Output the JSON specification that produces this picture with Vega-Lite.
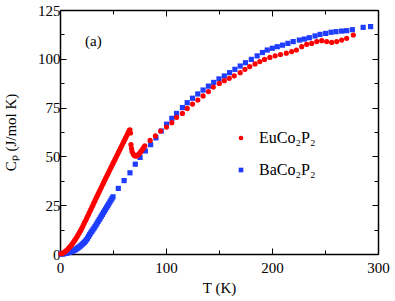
{
  "$schema": "https://vega.github.io/schema/vega-lite/v6.json",
  "width": 318,
  "height": 244,
  "autosize": "none",
  "padding": {"left": 60, "top": 10, "right": 17, "bottom": 47},
  "background": "white",
  "config": {"view": {"stroke": null}, "font": "Liberation Serif"},
  "datasets": {
    "pts": [
      {"s":"B","T":1,"C":0},{"s":"B","T":2,"C":0.05},{"s":"B","T":3,"C":0.1},{"s":"B","T":4,"C":0.2},{"s":"B","T":5,"C":0.3},{"s":"B","T":6,"C":0.45},{"s":"B","T":7,"C":0.6},{"s":"B","T":8,"C":0.8},{"s":"B","T":9,"C":1.0},{"s":"B","T":10,"C":1.2},
      {"s":"B","T":11,"C":1.4},{"s":"B","T":12,"C":1.6},{"s":"B","T":13,"C":1.8},{"s":"B","T":14,"C":2.1},{"s":"B","T":15,"C":2.4},{"s":"B","T":16,"C":2.8},{"s":"B","T":17,"C":3.2},{"s":"B","T":18,"C":3.6},{"s":"B","T":19,"C":4.0},{"s":"B","T":20,"C":4.5},
      {"s":"B","T":21,"C":5.0},{"s":"B","T":22,"C":5.5},{"s":"B","T":23,"C":6.0},{"s":"B","T":24,"C":6.6},{"s":"B","T":25,"C":7.3},{"s":"B","T":26,"C":8.1},{"s":"B","T":27,"C":9.0},{"s":"B","T":28,"C":10.0},{"s":"B","T":29,"C":10.8},{"s":"B","T":30,"C":11.6},
      {"s":"B","T":31,"C":12.4},{"s":"B","T":32,"C":13.2},{"s":"B","T":33,"C":14.0},{"s":"B","T":34,"C":14.9},{"s":"B","T":35,"C":15.8},{"s":"B","T":36,"C":16.7},{"s":"B","T":37,"C":17.6},{"s":"B","T":38,"C":18.5},{"s":"B","T":39,"C":19.4},{"s":"B","T":40,"C":20.3},
      {"s":"B","T":41,"C":21.2},{"s":"B","T":42,"C":22.1},{"s":"B","T":43,"C":23.0},{"s":"B","T":44,"C":23.9},{"s":"B","T":45,"C":24.8},{"s":"B","T":46,"C":25.7},{"s":"B","T":47,"C":26.6},{"s":"B","T":48,"C":27.5},{"s":"B","T":49,"C":28.4},{"s":"B","T":50,"C":29.3},
      {"s":"B","T":55,"C":33.6},{"s":"B","T":60.5,"C":37.6},{"s":"B","T":66,"C":41.6},{"s":"B","T":71,"C":46},{"s":"B","T":75.5,"C":49.5},{"s":"B","T":80.5,"C":52.8},{"s":"B","T":85.5,"C":56},{"s":"B","T":90.5,"C":59.5},{"s":"B","T":95.5,"C":63},{"s":"B","T":100.5,"C":66.5},
      {"s":"B","T":105.5,"C":69.5},{"s":"B","T":110,"C":72},{"s":"B","T":115.5,"C":75},{"s":"B","T":120,"C":77.5},{"s":"B","T":125,"C":79.8},{"s":"B","T":130,"C":82},{"s":"B","T":135,"C":84},{"s":"B","T":140,"C":86},{"s":"B","T":145,"C":87.9},{"s":"B","T":150,"C":89.7},
      {"s":"B","T":155,"C":91.2},{"s":"B","T":160,"C":92.9},{"s":"B","T":165,"C":94.6},{"s":"B","T":170,"C":96.3},{"s":"B","T":175,"C":98},{"s":"B","T":180.5,"C":99.7},{"s":"B","T":186,"C":101.5},{"s":"B","T":191,"C":103.2},{"s":"B","T":195.5,"C":104.5},{"s":"B","T":200.3,"C":105.4},
      {"s":"B","T":205,"C":106.2},{"s":"B","T":210,"C":107},{"s":"B","T":215,"C":107.9},{"s":"B","T":220,"C":108.8},{"s":"B","T":225.8,"C":109.6},{"s":"B","T":230.5,"C":110.1},{"s":"B","T":235.2,"C":110.8},{"s":"B","T":240.6,"C":111.7},{"s":"B","T":245.3,"C":112.5},{"s":"B","T":250.6,"C":113},
      {"s":"B","T":255.7,"C":113.6},{"s":"B","T":260.4,"C":113.9},{"s":"B","T":265.7,"C":114.2},{"s":"B","T":270.4,"C":114.4},{"s":"B","T":275.8,"C":114.9},{"s":"B","T":286,"C":116.1},{"s":"B","T":293,"C":116.5},
      {"s":"E","T":1,"C":0.1},{"s":"E","T":2,"C":0.3},{"s":"E","T":3,"C":0.6},{"s":"E","T":4,"C":0.9},{"s":"E","T":5,"C":1.3},{"s":"E","T":6,"C":1.8},{"s":"E","T":7,"C":2.3},{"s":"E","T":8,"C":2.9},{"s":"E","T":9,"C":3.5},{"s":"E","T":10,"C":4.1},
      {"s":"E","T":11,"C":4.8},{"s":"E","T":12,"C":5.5},{"s":"E","T":13,"C":6.3},{"s":"E","T":14,"C":7.1},{"s":"E","T":15,"C":7.9},{"s":"E","T":16,"C":8.8},{"s":"E","T":17,"C":9.7},{"s":"E","T":18,"C":10.6},{"s":"E","T":19,"C":11.6},{"s":"E","T":20,"C":12.6},
      {"s":"E","T":21,"C":13.7},{"s":"E","T":22,"C":14.8},{"s":"E","T":23,"C":15.9},{"s":"E","T":24,"C":17.0},{"s":"E","T":25,"C":18.1},{"s":"E","T":26,"C":19.3},{"s":"E","T":27,"C":20.4},{"s":"E","T":28,"C":21.6},{"s":"E","T":29,"C":22.7},{"s":"E","T":30,"C":23.9},
      {"s":"E","T":31,"C":25.0},{"s":"E","T":32,"C":26.2},{"s":"E","T":33,"C":27.3},{"s":"E","T":34,"C":28.5},{"s":"E","T":35,"C":29.6},{"s":"E","T":36,"C":30.8},{"s":"E","T":37,"C":31.9},{"s":"E","T":38,"C":33.0},{"s":"E","T":39,"C":34.2},{"s":"E","T":40,"C":35.3},
      {"s":"E","T":41,"C":36.4},{"s":"E","T":42,"C":37.6},{"s":"E","T":43,"C":38.7},{"s":"E","T":44,"C":39.8},{"s":"E","T":45,"C":40.9},{"s":"E","T":46,"C":42.0},{"s":"E","T":47,"C":43.1},{"s":"E","T":48,"C":44.2},{"s":"E","T":49,"C":45.3},{"s":"E","T":50,"C":46.4},
      {"s":"E","T":51,"C":47.5},{"s":"E","T":52,"C":48.6},{"s":"E","T":53,"C":49.7},{"s":"E","T":54,"C":50.8},{"s":"E","T":55,"C":51.9},{"s":"E","T":56,"C":53.0},{"s":"E","T":57,"C":54.1},{"s":"E","T":58,"C":55.2},{"s":"E","T":59,"C":56.3},{"s":"E","T":60,"C":57.4},
      {"s":"E","T":61,"C":58.5},{"s":"E","T":62,"C":59.6},{"s":"E","T":63,"C":60.7},{"s":"E","T":64,"C":61.8},{"s":"E","T":65,"C":62.8},{"s":"E","T":65.5,"C":63.3},{"s":"E","T":66,"C":63.6},{"s":"E","T":66.5,"C":62},{"s":"E","T":67,"C":56},{"s":"E","T":67.5,"C":54},
      {"s":"E","T":68,"C":52.5},{"s":"E","T":69,"C":51.3},{"s":"E","T":70,"C":50.5},{"s":"E","T":71,"C":50.2},{"s":"E","T":72,"C":50.2},{"s":"E","T":73,"C":50.5},{"s":"E","T":74,"C":51},{"s":"E","T":75,"C":51.6},{"s":"E","T":76,"C":52.3},{"s":"E","T":77,"C":53},
      {"s":"E","T":78,"C":53.8},{"s":"E","T":79,"C":54.6},{"s":"E","T":80,"C":55.4},{"s":"E","T":85,"C":58.2},{"s":"E","T":90,"C":60.5},{"s":"E","T":95,"C":63},{"s":"E","T":100.5,"C":65},{"s":"E","T":105.5,"C":67.3},{"s":"E","T":110,"C":70},{"s":"E","T":115.5,"C":72},
      {"s":"E","T":120,"C":74.6},{"s":"E","T":125,"C":76.8},{"s":"E","T":130,"C":78.9},{"s":"E","T":135,"C":81},{"s":"E","T":140,"C":83.2},{"s":"E","T":144.6,"C":85.5},{"s":"E","T":150.3,"C":87.4},{"s":"E","T":155,"C":88.8},{"s":"E","T":159.7,"C":90},{"s":"E","T":164.4,"C":91.3},
      {"s":"E","T":170,"C":92.9},{"s":"E","T":174.5,"C":94.6},{"s":"E","T":179,"C":96},{"s":"E","T":184,"C":97.4},{"s":"E","T":188.5,"C":98.6},{"s":"E","T":193,"C":99.7},{"s":"E","T":198,"C":100.7},{"s":"E","T":203,"C":101.5},{"s":"E","T":208,"C":102.2},{"s":"E","T":213.5,"C":102.9},
      {"s":"E","T":218.5,"C":103.7},{"s":"E","T":223,"C":104.5},{"s":"E","T":228,"C":106.2},{"s":"E","T":232.7,"C":107.4},{"s":"E","T":237.4,"C":107.9},{"s":"E","T":242.2,"C":108.8},{"s":"E","T":246.9,"C":109.3},{"s":"E","T":251.6,"C":108.8},{"s":"E","T":256.3,"C":108.4},{"s":"E","T":261,"C":108.8},
      {"s":"E","T":265.7,"C":109.6},{"s":"E","T":270.4,"C":110.5},{"s":"E","T":276.7,"C":112.2}
    ],
    "notes": [{"label": "(a)"}]
  },
  "layer": [
    {
      "data": {"name": "pts"},
      "mark": {"type": "point", "filled": true, "opacity": 1, "size": 27, "strokeWidth": 0},
      "encoding": {
        "x": {"field": "T", "type": "quantitative",
          "scale": {"domain": [0, 300], "nice": false, "zero": false},
          "axis": {"orient": "bottom", "values": [0, 50, 100, 150, 200, 250, 300],
            "labelExpr": "datum.value % 100 === 0 ? datum.label : ''",
            "tickSize": {"condition": {"test": "datum.value % 100 === 0", "value": -6}, "value": -4},
            "title": "T (K)", "grid": false, "domainColor": "black", "domainWidth": 1.5,
            "tickColor": "black", "tickWidth": 1, "labelFont": "Liberation Serif", "labelFontSize": 15,
            "labelColor": "black", "labelPadding": 12, "labelFlush": false, "titleFont": "Liberation Serif",
            "titleFontSize": 15, "titleFontWeight": "normal", "titleColor": "black", "titlePadding": 5}},
        "y": {"field": "C", "type": "quantitative",
          "scale": {"domain": [0, 125], "nice": false, "zero": false},
          "axis": {"orient": "left", "values": [0, 12.5, 25, 37.5, 50, 62.5, 75, 87.5, 100, 112.5, 125],
            "labelExpr": "datum.value % 25 === 0 ? datum.label : ''",
            "tickSize": {"condition": {"test": "datum.value % 25 === 0", "value": -6}, "value": -4},
            "title": "Cₚ (J/mol K)", "grid": false, "domainColor": "black", "domainWidth": 1.5,
            "tickColor": "black", "tickWidth": 1, "labelFont": "Liberation Serif", "labelFontSize": 15,
            "labelColor": "black", "labelPadding": 6, "labelFlush": false, "titleFont": "Liberation Serif",
            "titleFontSize": 15, "titleFontWeight": "normal", "titleColor": "black", "titlePadding": 19}},
        "color": {"field": "s", "type": "nominal",
          "scale": {"domain": ["E", "B"], "range": ["#ff0000", "#1f3dff"]},
          "legend": {"orient": "none", "legendX": 173, "legendY": 120, "title": null, "padding": 0,
            "labelExpr": "datum.label === 'E' ? 'EuCo₂P₂' : 'BaCo₂P₂'",
            "labelFont": "Liberation Serif", "labelFontSize": 16, "labelOffset": 10,
            "symbolSize": 22, "symbolStrokeWidth": 0, "rowPadding": 16,
            "encode": {"labels": {"update": {"fill": {"scale": "color", "field": "value"}}}}}},
        "shape": {"field": "s", "type": "nominal",
          "scale": {"domain": ["E", "B"], "range": ["circle", "square"]}, "legend": null},
        "order": {"field": "s", "sort": "ascending"}
      }
    },
    {
      "data": {"name": "notes"},
      "mark": {"type": "text", "font": "Liberation Serif", "fontSize": 15, "color": "black", "align": "center", "baseline": "middle"},
      "encoding": {
        "text": {"field": "label"},
        "x": {"datum": 31.5, "type": "quantitative",
          "axis": {"orient": "top", "values": [0, 50, 100, 150, 200, 250, 300], "labels": false, "title": null,
            "tickSize": {"condition": {"test": "datum.value % 100 === 0", "value": -6}, "value": -4},
            "grid": false, "domainColor": "black", "domainWidth": 1.5, "tickColor": "black", "tickWidth": 1}},
        "y": {"datum": 109, "type": "quantitative",
          "axis": {"orient": "right", "values": [0, 12.5, 25, 37.5, 50, 62.5, 75, 87.5, 100, 112.5, 125], "labels": false, "title": null,
            "tickSize": {"condition": {"test": "datum.value % 25 === 0", "value": -6}, "value": -4},
            "grid": false, "domainColor": "black", "domainWidth": 1.5, "tickColor": "black", "tickWidth": 1}}
      }
    }
  ],
  "resolve": {"axis": {"x": "independent", "y": "independent"}}
}
